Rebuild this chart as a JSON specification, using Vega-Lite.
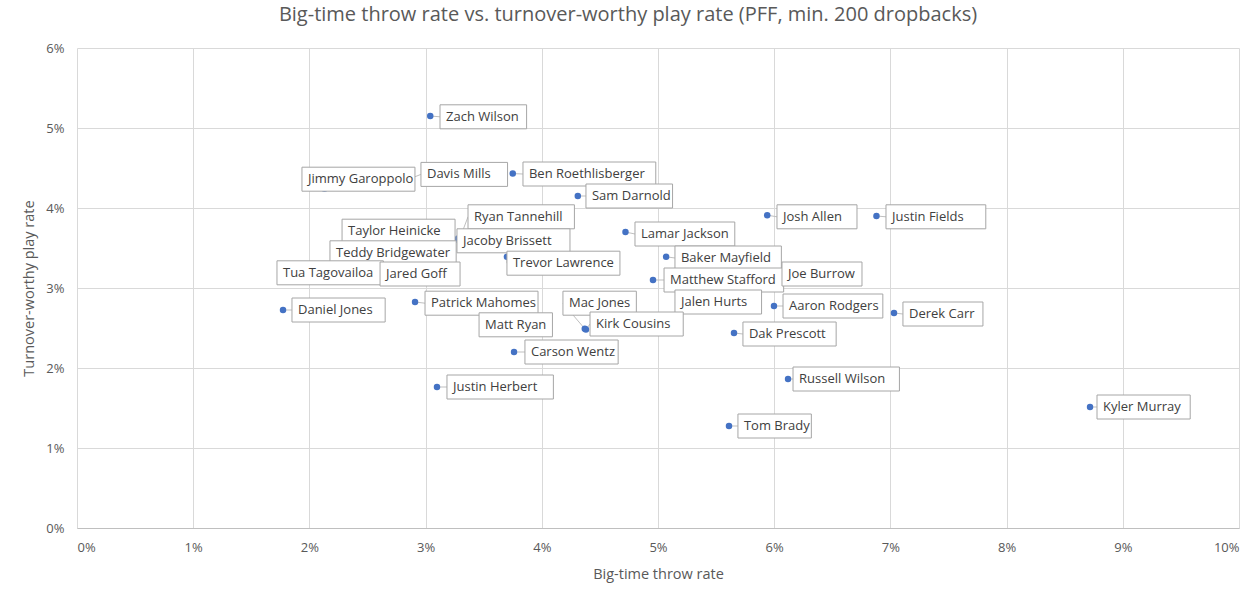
{
  "$schema": "https://vega.github.io/schema/vega-lite/v6.json",
  "width": 1162,
  "height": 480,
  "autosize": {"type": "none"},
  "padding": {"left": 77, "top": 48, "right": 20, "bottom": 70},
  "background": "white",
  "title": {
    "text": "Big-time throw rate vs. turnover-worthy play rate (PFF, min. 200 dropbacks)",
    "font": "Open Sans",
    "fontSize": 20,
    "fontWeight": "normal",
    "color": "#595959",
    "anchor": "middle",
    "dx": -30,
    "offset": 17
  },
  "config": {
    "view": {"stroke": null},
    "font": "Open Sans",
    "axis": {
      "gridColor": "#d9d9d9",
      "gridWidth": 1,
      "ticks": false,
      "labelColor": "#595959",
      "labelFont": "Open Sans",
      "labelFontSize": 13,
      "titleColor": "#595959",
      "titleFont": "Open Sans",
      "titleFontSize": 14.5,
      "titleFontWeight": "normal"
    }
  },
  "data": {
    "values": [
      {"name": "Zach Wilson", "btt": 3.04, "twp": 5.15, "lx": 3.124, "ly": 5.14},
      {"name": "Jimmy Garoppolo", "btt": 2.13, "twp": 4.24, "lx": 1.936, "ly": 4.36},
      {"name": "Davis Mills", "btt": 2.8, "twp": 4.33, "lx": 2.96, "ly": 4.42},
      {"name": "Ben Roethlisberger", "btt": 3.75, "twp": 4.43, "lx": 3.838, "ly": 4.425},
      {"name": "Sam Darnold", "btt": 4.31, "twp": 4.15, "lx": 4.38, "ly": 4.15},
      {"name": "Josh Allen", "btt": 5.94, "twp": 3.91, "lx": 6.024, "ly": 3.89},
      {"name": "Justin Fields", "btt": 6.88, "twp": 3.9, "lx": 6.962, "ly": 3.89},
      {"name": "Lamar Jackson", "btt": 4.72, "twp": 3.7, "lx": 4.802, "ly": 3.675},
      {"name": "Ryan Tannehill", "btt": 3.3, "twp": 3.64, "lx": 3.365, "ly": 3.89},
      {"name": "Taylor Heinicke", "btt": 3.25, "twp": 3.6, "lx": 2.281, "ly": 3.71},
      {"name": "Jacoby Brissett", "btt": 3.28, "twp": 3.62, "lx": 3.27, "ly": 3.59},
      {"name": "Teddy Bridgewater", "btt": 3.0, "twp": 3.35, "lx": 2.177, "ly": 3.44},
      {"name": "Trevor Lawrence", "btt": 3.7, "twp": 3.39, "lx": 3.7, "ly": 3.31},
      {"name": "Baker Mayfield", "btt": 5.07, "twp": 3.39, "lx": 5.146, "ly": 3.375},
      {"name": "Tua Tagovailoa", "btt": 2.6, "twp": 3.3, "lx": 1.721, "ly": 3.19},
      {"name": "Jared Goff", "btt": 2.85, "twp": 3.25, "lx": 2.608, "ly": 3.175},
      {"name": "Matthew Stafford", "btt": 4.957, "twp": 3.1, "lx": 5.052, "ly": 3.1},
      {"name": "Joe Burrow", "btt": 5.75, "twp": 3.07, "lx": 6.067, "ly": 3.175},
      {"name": "Jalen Hurts", "btt": 5.55, "twp": 3.13, "lx": 5.146, "ly": 2.825},
      {"name": "Patrick Mahomes", "btt": 2.909, "twp": 2.825, "lx": 2.995, "ly": 2.81},
      {"name": "Daniel Jones", "btt": 1.773, "twp": 2.725, "lx": 1.85, "ly": 2.725},
      {"name": "Mac Jones", "btt": 4.37, "twp": 2.49, "lx": 4.182, "ly": 2.81},
      {"name": "Kirk Cousins", "btt": 4.38, "twp": 2.48, "lx": 4.415, "ly": 2.55},
      {"name": "Matt Ryan", "btt": 3.9, "twp": 2.64, "lx": 3.46, "ly": 2.54},
      {"name": "Aaron Rodgers", "btt": 5.998, "twp": 2.775, "lx": 6.076, "ly": 2.775},
      {"name": "Derek Carr", "btt": 7.031, "twp": 2.6875, "lx": 7.108, "ly": 2.675},
      {"name": "Dak Prescott", "btt": 5.654, "twp": 2.4375, "lx": 5.731, "ly": 2.425},
      {"name": "Carson Wentz", "btt": 3.761, "twp": 2.2, "lx": 3.855, "ly": 2.2},
      {"name": "Justin Herbert", "btt": 3.098, "twp": 1.7625, "lx": 3.184, "ly": 1.7625},
      {"name": "Russell Wilson", "btt": 6.119, "twp": 1.8625, "lx": 6.162, "ly": 1.8625},
      {"name": "Kyler Murray", "btt": 8.718, "twp": 1.5125, "lx": 8.778, "ly": 1.5125},
      {"name": "Tom Brady", "btt": 5.611, "twp": 1.275, "lx": 5.688, "ly": 1.275}
    ]
  },
  "layer": [
    {
      "mark": {"type": "rule", "color": "#bfbfbf", "strokeWidth": 1},
      "encoding": {
        "x": {
          "field": "btt", "type": "quantitative",
          "scale": {"domain": [0, 10], "nice": false, "zero": true},
          "axis": {
            "title": "Big-time throw rate",
            "values": [0, 1, 2, 3, 4, 5, 6, 7, 8, 9, 10],
            "labelExpr": "datum.value + '%'",
            "domainColor": "#bfbfbf",
            "labelPadding": 13,
            "titlePadding": 13
          }
        },
        "y": {
          "field": "twp", "type": "quantitative",
          "scale": {"domain": [0, 6], "nice": false},
          "axis": {
            "title": "Turnover-worthy play rate",
            "values": [0, 1, 2, 3, 4, 5, 6],
            "labelExpr": "datum.value + '%'",
            "domain": false,
            "labelPadding": 13,
            "titlePadding": 9
          }
        },
        "x2": {"field": "lx"},
        "y2": {"field": "ly"}
      }
    },
    {
      "mark": {"type": "circle", "color": "#4472C4", "opacity": 1, "size": 42},
      "encoding": {
        "x": {"field": "btt", "type": "quantitative"},
        "y": {"field": "twp", "type": "quantitative"}
      }
    },
    {
      "mark": {
        "type": "rect",
        "fill": "white",
        "stroke": "#a6a6a6",
        "strokeWidth": 1,
        "yOffset": -12,
        "y2Offset": 12,
        "x2Offset": {"expr": "length(datum.name) * 6.6 + 14"}
      },
      "encoding": {
        "x": {"field": "lx", "type": "quantitative"},
        "x2": {"field": "lx"},
        "y": {"field": "ly", "type": "quantitative"},
        "y2": {"field": "ly"}
      }
    },
    {
      "mark": {
        "type": "text",
        "align": "left",
        "baseline": "middle",
        "dx": 6,
        "font": "Open Sans",
        "fontSize": 13,
        "color": "#404040"
      },
      "encoding": {
        "x": {"field": "lx", "type": "quantitative"},
        "y": {"field": "ly", "type": "quantitative"},
        "text": {"field": "name"}
      }
    }
  ]
}
